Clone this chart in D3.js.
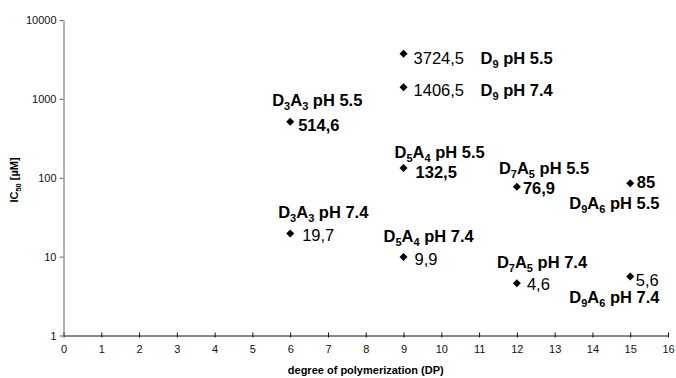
<!DOCTYPE html>
<html>
<head>
<meta charset="utf-8">
<script src="https://cdn.jsdelivr.net/npm/d3@7"></script>
<style>
  body { margin: 0; background: #fff; }
  svg { display: block; font-family: "Liberation Sans", Arial, sans-serif; }
</style>
</head>
<body>
<svg id="chart" width="676" height="378"></svg>
<script>
// IC50 values by degree of polymerization and pH
const compounds = ["D9", "D9", "D3A3", "D5A4", "D7A5", "D9A6", "D3A3", "D5A4", "D7A5", "D9A6"];
const phValues = ["5.5", "7.4", "5.5", "5.5", "5.5", "5.5", "7.4", "7.4", "7.4", "7.4"];
const dpValues = [9, 9, 6, 9, 12, 15, 6, 9, 12, 15];
const ic50Values = [3724.5, 1406.5, 514.6, 132.5, 76.9, 85, 19.7, 9.9, 4.6, 5.6];
const xTicks = d3.range(0, 17);
const yTicks = [1, 10, 100, 1000, 10000];

// label placement: pixel offsets (dx, baseline dy) from each marker
const valueLabelOffsets = [[10, 10], [10, 9], [8, 9], [12, 9.5], [6, 7.5], [6.5, 4.5], [12, 8], [11, 8], [10, 7], [5.5, 9.5]];
const nameLabelOffsets = [[77, 10], [77, 9], [-18, -16], [-9, -10], [-18, -12.5], [-61, 26], [-12, -15.5], [-20, -14.5], [-20, -15], [-61, 26.5]];
const valueBold = [false, false, true, true, true, true, false, false, false, false];

const svg = d3.select("#chart");
const x = d3.scaleLinear().domain([0, 16]).range([63.5, 668]);
const y = d3.scaleLog().domain([1, 10000]).range([335.5, 20]);
const fmt = d3.formatLocale({ decimal: ",", thousands: "", grouping: [3], currency: ["", ""] }).format("~f");

// axes
const xAxis = svg.append("g").attr("transform", `translate(0,${y(1)})`)
  .call(d3.axisBottom(x).tickValues(xTicks).tickSizeInner(-3).tickSizeOuter(0).tickPadding(10));
xAxis.select(".domain").attr("stroke", "#111");
xAxis.selectAll(".tick line").attr("stroke", "#111").attr("y2", -3).attr("y1", 2);
xAxis.selectAll(".tick text").attr("font-size", 11).attr("fill", "#111").attr("font-family", "Liberation Sans, Arial, sans-serif");

const yAxis = svg.append("g").attr("transform", `translate(${x(0)},0)`)
  .call(d3.axisLeft(y).tickValues(yTicks).tickFormat(d3.format("d")).tickSizeInner(4).tickSizeOuter(0).tickPadding(3));
yAxis.select(".domain").attr("stroke", "#666");
yAxis.selectAll(".tick line").attr("stroke", "#666");
yAxis.selectAll(".tick text").attr("font-size", 11).attr("fill", "#111").attr("font-family", "Liberation Sans, Arial, sans-serif");

// axis titles
svg.append("text")
  .attr("x", (x(0) + x(16)) / 2).attr("y", 374)
  .attr("text-anchor", "middle").attr("font-size", 11).attr("font-weight", "bold")
  .text("degree of polymerization (DP)");

const yTitle = svg.append("text")
  .attr("transform", "translate(18,180) rotate(-90)")
  .attr("text-anchor", "middle").attr("font-size", 11).attr("font-weight", "bold");
yTitle.append("tspan").text("IC");
yTitle.append("tspan").attr("font-size", 7.5).attr("dy", 2.5).text("50");
yTitle.append("tspan").attr("dy", -2.5).text(" [µM]");

// markers: diamonds
const idx = d3.range(ic50Values.length);
svg.append("g").selectAll("path").data(idx).join("path")
  .attr("d", d3.symbol(d3.symbolSquare, 32)())
  .attr("transform", i => `translate(${x(dpValues[i])},${y(ic50Values[i])}) rotate(45)`)
  .attr("fill", "#000");

// value labels
svg.append("g").selectAll("text").data(idx).join("text")
  .attr("x", i => x(dpValues[i]) + valueLabelOffsets[i][0])
  .attr("y", i => y(ic50Values[i]) + valueLabelOffsets[i][1])
  .attr("font-size", 16.5)
  .attr("font-weight", i => valueBold[i] ? "bold" : "normal")
  .attr("fill", "#000")
  .text(i => fmt(ic50Values[i]));

// compound name labels with subscripts
const subShift = 4;
const names = svg.append("g").selectAll("text").data(idx).join("text")
  .attr("x", i => x(dpValues[i]) + nameLabelOffsets[i][0])
  .attr("y", i => y(ic50Values[i]) + nameLabelOffsets[i][1])
  .attr("font-size", 16.5).attr("font-weight", "bold").attr("fill", "#000");

names.each(function (i) {
  const t = d3.select(this);
  const parts = [...compounds[i].matchAll(/([A-Z])(\d+)/g)];
  let lowered = false;
  parts.forEach(m => {
    t.append("tspan").attr("dy", lowered ? -subShift : 0).text(m[1]);
    t.append("tspan").attr("font-size", 11).attr("dy", subShift).text(m[2]);
    lowered = true;
  });
  t.append("tspan").attr("dy", lowered ? -subShift : 0).text(" pH " + phValues[i]);
});
</script>
</body>
</html>
